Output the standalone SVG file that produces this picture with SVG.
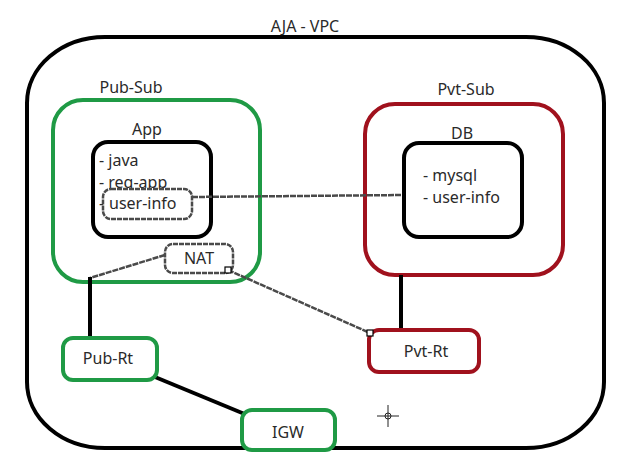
<svg xmlns="http://www.w3.org/2000/svg" width="617" height="456" viewBox="0 0 617 456">
<style>
text{font-family:"Noto Sans","Open Sans","DejaVu Sans",sans-serif;font-size:16px;fill:#2a2a2a}
.c{text-anchor:middle}
.blk{fill:none;stroke:#000;stroke-width:4}
.grn{fill:#fff;stroke:#1f9a45;stroke-width:4}
.red{fill:#fff;stroke:#a0111d;stroke-width:4}
.dash{fill:#fff;stroke:#4a4a4a;stroke-width:2.5;stroke-dasharray:5 1}
.gl{fill:none;stroke:#4a4a4a;stroke-width:2.5;stroke-dasharray:6 1}
.bl{fill:none;stroke:#000;stroke-width:4}
.pt{fill:#fff;stroke:#000;stroke-width:1.2}
</style>
<g id="vpc">
<rect x="27" y="37" width="577" height="411" rx="78" ry="66" class="blk"/>
<text x="305" y="32" class="c">AJA - VPC</text>
</g>
<g id="pub-sub">
<rect x="53" y="100" width="207" height="182" rx="30" class="grn"/>
<text x="131" y="93" class="c">Pub-Sub</text>
</g>
<g id="pvt-sub">
<rect x="365" y="104" width="198" height="171" rx="30" class="red"/>
<text x="466" y="95" class="c">Pvt-Sub</text>
</g>
<g id="app">
<rect x="93" y="142" width="118" height="95" rx="15" class="blk" fill="#fff"/>
<text x="147" y="135" class="c">App</text>
<text x="99" y="166">- java</text>
<text x="99" y="188">- reg-app</text>
<text x="99" y="209">-</text>
</g>
<g id="db">
<rect x="404" y="143" width="118" height="94" rx="15" class="blk"/>
<text x="462" y="139" class="c">DB</text>
<text x="423" y="181">- mysql</text>
<text x="423" y="203">- user-info</text>
</g>
<g id="connectors">
<line x1="192" y1="197" x2="402" y2="195" class="gl"/>
<line x1="165" y1="255" x2="90" y2="278" class="gl"/>
<line x1="228" y1="270" x2="370" y2="333" class="gl"/>
<line x1="90" y1="277" x2="90" y2="339" class="bl"/>
<line x1="401" y1="275" x2="401" y2="330" class="bl"/>
<line x1="155" y1="377" x2="247" y2="415" class="bl" stroke-width="3.5"/>
</g>
<g id="user-info">
<rect x="103" y="189" width="89" height="30" rx="8" class="dash"/>
<text x="109" y="209">user-info</text>
</g>
<g id="nat">
<rect x="165" y="244" width="68" height="29" rx="8" class="dash"/>
<text x="199" y="264" class="c">NAT</text>
<rect x="225" y="267" width="6" height="6" class="pt"/>
</g>
<g id="pub-rt">
<rect x="63" y="338" width="94" height="42" rx="10" class="grn"/>
<text x="108" y="364" class="c">Pub-Rt</text>
</g>
<g id="pvt-rt">
<rect x="369" y="330" width="110" height="42" rx="10" class="red"/>
<text x="426" y="357" class="c">Pvt-Rt</text>
<rect x="367" y="330" width="6" height="6" class="pt"/>
</g>
<g id="igw">
<rect x="242" y="410" width="93" height="40" rx="10" class="grn"/>
<text x="288" y="438" class="c">IGW</text>
</g>
<g id="cursor" stroke="#222" stroke-width="1" fill="none">
<circle cx="388" cy="416" r="3"/>
<line x1="377" y1="416" x2="399" y2="416"/>
<line x1="388" y1="405" x2="388" y2="427"/>
</g>
</svg>
